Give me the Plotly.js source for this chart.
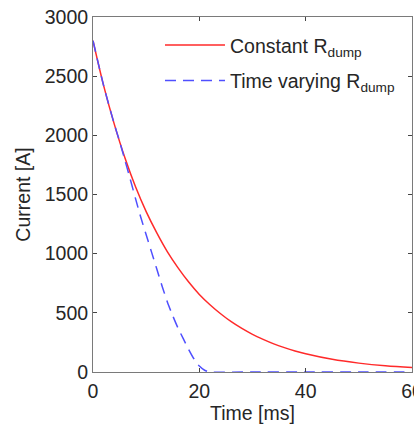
<!DOCTYPE html>
<html>
<head>
<meta charset="utf-8">
<script src="https://cdn.plot.ly/plotly-3.0.1.min.js"></script>
<style>html,body{margin:0;padding:0;background:#fff;}#chart{width:414px;height:424px;}</style>
</head>
<body>
<div id="chart"></div>
<script>
// Time [ms] and current [A]
var timeConst = [0, 2, 4, 6, 8, 10, 12, 14, 16, 18, 20, 22, 24, 26, 28, 30, 32, 34, 36, 38, 40, 45, 50, 55, 60];
var currentConst = [2800, 2420, 2095, 1810, 1565, 1355, 1175, 1015, 880, 760, 655, 568, 492, 425, 368, 318, 276, 238, 206, 178, 154, 107, 75, 52, 37];

var timeVar = [0, 2, 4, 5, 6, 7, 8, 9, 10, 11, 12, 13, 14, 15, 16, 17, 18, 19, 20, 21, 22, 30, 40, 50, 60];
var currentVar = [2800, 2420, 2095, 1950, 1790, 1630, 1465, 1305, 1160, 1015, 870, 725, 590, 475, 370, 280, 190, 110, 50, 15, 0, 0, 0, 0, 0];

var seriesNames = ['Constant R<sub>dump</sub>', 'Time varying R<sub>dump</sub>'];
var xTicks = [0, 20, 40, 60];
var yTicks = [0, 500, 1000, 1500, 2000, 2500, 3000];

var fontFam = '"Liberation Sans", Arial, sans-serif';
var fs = 19.5;

var traces = [
  {x: timeConst, y: currentConst, name: seriesNames[0], legendgroup: 'a', mode: 'lines', line: {color: '#ff2a2a', width: 1.5, shape: 'spline', smoothing: 1}},
  {x: timeVar, y: currentVar, name: seriesNames[1], legendgroup: 'b', mode: 'lines', line: {color: '#4f4fff', width: 1.5, dash: '11px,7px', shape: 'spline', smoothing: 0.6}}
];

var axisCommon = {
  showline: true, linecolor: '#7a7a7a', linewidth: 1, mirror: 'ticks',
  ticks: 'inside', ticklen: 4, tickcolor: '#444', tickwidth: 1,
  showgrid: false, zeroline: false, ticklabeloverflow: 'allow',
  tickfont: {family: fontFam, size: fs, color: '#262626'}
};

var layout = {
  width: 414, height: 424,
  margin: {l: 93, r: 2, t: 17, b: 52},
  paper_bgcolor: '#ffffff', plot_bgcolor: '#ffffff',
  font: {family: fontFam, size: fs, color: '#262626'},
  showlegend: true,
  legend: {x: 0.21, y: 0.975, xanchor: 'left', yanchor: 'top', bgcolor: 'rgba(0,0,0,0)', borderwidth: 0,
           font: {family: fontFam, size: fs, color: '#262626'}, itemwidth: 60, tracegroupgap: 7},
  xaxis: Object.assign({}, axisCommon, {range: [0, 60], tickvals: xTicks, ticktext: xTicks.map(String),
    ticklabelstandoff: 2,
    title: {text: 'Time [ms]', font: {family: fontFam, size: fs, color: '#262626'}, standoff: 5}}),
  yaxis: Object.assign({}, axisCommon, {range: [0, 3000], tickvals: yTicks, ticktext: yTicks.map(String),
    title: {text: 'Current [A]', font: {family: fontFam, size: fs, color: '#262626'}, standoff: 8}})
};

Plotly.newPlot('chart', traces, layout, {displayModeBar: false, staticPlot: true});
</script>
</body>
</html>
